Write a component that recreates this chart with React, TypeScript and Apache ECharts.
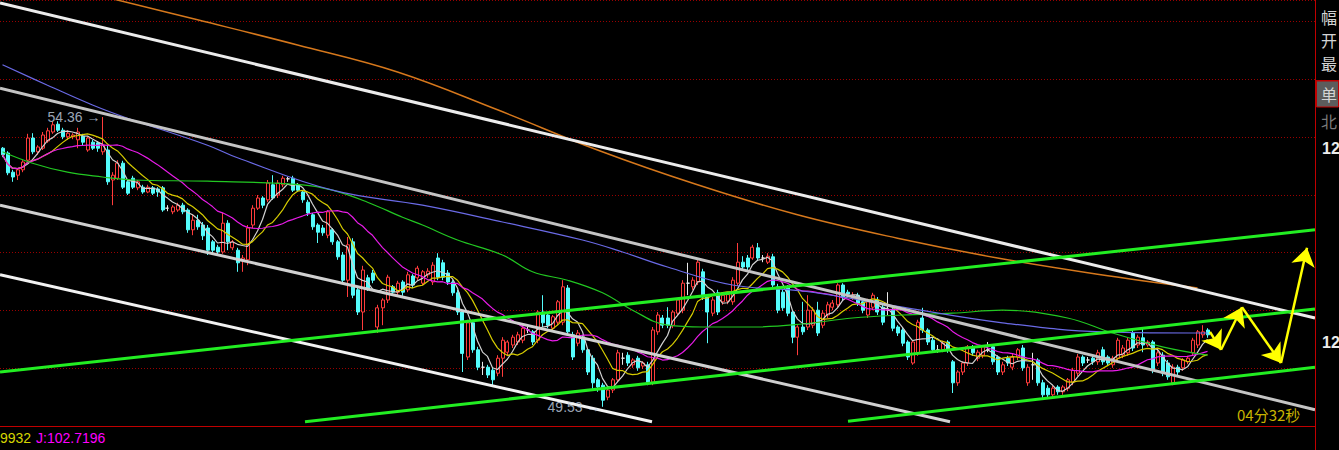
import React, { useEffect, useRef } from 'react';
import * as echarts from 'echarts';

// [open, close, low, high]
const candles: number[][] = [
  [53.84,53.73,53.69,53.86],[53.76,53.43,53.39,53.79],[53.44,53.36,53.28,53.48],[53.39,53.48,53.31,53.51],
  [53.48,53.61,53.44,53.64],[53.64,54.01,53.61,54.08],[54.01,53.78,53.74,54.09],[53.78,53.86,53.73,53.89],
  [53.84,54.06,53.81,54.11],[53.96,54.13,53.93,54.18],[54.11,54.23,54.08,54.28],[54.24,54.14,54.11,54.29],
  [54.14,54.03,53.99,54.18],[54.03,54.09,53.98,54.14],[54.03,54.06,53.99,54.09],[53.98,54.11,53.84,54.18],
  [54.04,53.94,53.89,54.08],[53.81,54.01,53.78,54.04],[53.94,53.84,53.81,53.98],[53.93,53.84,53.78,53.96],
  [53.78,53.89,53.73,54.36],[53.81,53.28,53.23,53.88],[53.31,53.39,52.89,53.44],[53.34,53.59,53.31,53.64],
  [53.59,53.19,53.16,53.63],[53.28,53.09,53.06,53.31],[53.34,53.19,53.16,53.38],[53.18,53.28,53.14,53.31],
  [53.19,53.11,53.08,53.23],[53.11,53.19,53.09,53.23],[53.18,53.09,53.06,53.21],[53.16,53.11,53.03,53.19],
  [53.18,52.81,52.78,53.21],[52.84,52.84,52.79,52.89],[52.78,52.86,52.74,52.89],[52.81,52.89,52.78,52.93],
  [52.89,52.78,52.74,52.93],[52.81,52.48,52.43,52.84],[52.48,52.64,52.39,52.73],[52.64,52.53,52.48,52.73],
  [52.56,52.38,52.31,52.61],[52.51,52.14,52.06,52.56],[52.28,52.14,52.09,52.31],[52.19,52.11,52.06,52.23],
  [52.11,52.59,52.08,52.76],[52.59,52.28,52.14,52.64],[52.18,52.28,52.14,52.31],[52.14,51.93,51.78,52.18],
  [51.98,52.01,51.78,52.06],[51.98,52.51,51.89,52.56],[52.56,52.84,52.51,52.89],[52.84,53.01,52.81,53.06],
  [53.01,52.89,52.84,53.04],[52.98,53.26,52.94,53.31],[53.23,53.01,52.98,53.39],[53.06,53.26,53.01,53.31],
  [53.23,53.34,53.19,53.38],[53.33,53.33,53.28,53.36],[53.34,53.14,53.11,53.38],[53.23,53.14,53.11,53.26],
  [53.11,52.98,52.93,53.14],[52.94,52.76,52.71,52.98],[52.73,52.53,52.48,52.76],[52.56,52.44,52.26,52.59],
  [52.51,52.43,52.38,52.56],[52.39,52.78,52.34,52.81],[52.48,52.28,52.23,52.51],[52.28,52.03,51.98,52.31],
  [52.06,51.64,51.59,52.11],[51.64,52.23,51.36,52.36],[52.28,51.39,51.34,52.34],[51.48,51.11,51.06,51.53],
  [51.11,51.81,50.81,51.88],[51.68,51.51,51.46,51.73],[51.76,51.64,51.59,51.81],[50.86,51.18,50.76,51.23],
  [51.18,51.31,50.89,51.34],[51.31,51.69,51.26,51.73],[51.53,51.44,51.39,51.56],[51.44,51.59,51.39,51.63],
  [51.61,51.44,51.38,51.64],[51.48,51.73,51.44,51.78],[51.71,51.56,51.51,51.74],[51.68,51.84,51.64,51.88],
  [51.59,51.78,51.56,51.81],[51.73,51.79,51.68,51.84],[51.61,51.89,51.56,51.94],[52.01,51.69,51.64,52.09],
  [51.93,51.69,51.64,51.98],[51.76,51.61,51.56,51.81],[51.61,51.43,51.38,51.64],[51.43,51.11,51.06,51.48],
  [51.11,50.42,50.11,51.14],[50.36,50.93,50.31,50.98],[50.93,50.48,50.43,50.98],[50.48,50.19,50.14,50.53],
  [50.19,50.19,50.06,50.28],[50.19,50.06,50.01,50.23],[50.14,49.98,49.86,50.18],[50.09,50.34,50.04,50.39],
  [50.34,50.64,50.03,50.69],[50.44,50.61,50.39,50.64],[50.56,50.69,50.51,50.73],[50.61,50.73,50.56,50.78],
  [50.64,50.84,50.59,50.89],[50.81,50.81,50.76,50.86],[50.78,50.61,50.56,50.81],[50.64,51.11,50.59,51.14],
  [51.11,50.93,50.86,51.39],[51.06,50.89,50.84,51.11],[50.84,51.03,50.81,51.06],[50.94,51.28,50.89,51.31],
  [50.94,51.53,50.89,51.64],[51.51,50.78,50.73,51.56],[50.73,50.36,50.31,50.78],[50.59,50.76,50.54,50.81],
  [50.68,50.48,50.43,50.73],[50.48,50.11,50.06,50.51],[50.34,49.93,49.81,50.39],[49.98,49.86,49.78,50.01],
  [49.89,49.64,49.53,49.93],[49.69,49.81,49.64,49.84],[49.81,49.98,49.76,50.01],[49.98,50.43,49.94,50.48],
  [50.34,50.34,50.23,50.43],[50.39,50.26,50.21,50.44],[50.23,50.31,50.18,50.34],[50.34,50.18,50.13,50.38],
  [50.21,50.26,50.16,50.29],[50.23,49.94,49.89,50.28],[49.94,50.81,49.89,50.86],[50.78,51.06,50.73,51.11],
  [51.01,50.89,50.84,51.06],[51.01,50.89,50.84,51.19],[50.89,51.11,50.84,51.14],[51.09,51.31,51.04,51.34],
  [51.14,51.59,51.09,51.64],[51.59,51.59,51.39,51.93],[51.53,51.64,51.48,51.69],[51.61,51.94,51.56,51.99],
  [51.78,51.36,51.31,51.83],[51.36,51.11,50.59,51.41],[51.09,51.31,51.04,51.36],[51.43,51.11,51.06,51.48],
  [51.28,51.39,51.23,51.44],[51.29,51.40,51.24,51.44],[51.28,51.64,51.23,51.69],[51.59,51.94,51.54,52.26],
  [51.94,51.86,51.81,52.04],[52.01,51.86,51.81,52.06],[52.01,52.19,51.98,52.23],[52.18,52.01,51.96,52.26],
  [52.01,52.01,51.94,52.06],[51.94,52.04,51.91,52.09],[52.03,51.56,51.51,52.08],[51.53,51.14,51.09,51.58],
  [51.44,51.18,51.13,51.49],[51.51,51.09,51.04,51.56],[51.11,50.69,50.59,51.14],[50.69,50.86,50.39,50.89],
  [50.86,50.78,50.73,51.28],[50.86,51.14,50.81,51.39],[50.89,51.14,50.84,51.19],[51.14,50.76,50.71,51.28],
  [50.89,51.09,50.84,51.14],[51.06,51.23,51.01,51.28],[51.19,51.26,51.14,51.31],[51.23,51.56,51.18,51.59],
  [51.56,51.36,51.31,51.59],[51.44,51.41,51.36,51.48],[51.34,51.39,51.31,51.44],[51.39,51.26,51.21,51.43],
  [51.28,51.14,51.09,51.31],[51.06,51.28,51.01,51.33],[51.19,51.39,51.14,51.43],[51.31,51.11,51.06,51.36],
  [51.19,50.94,50.89,51.23],[51.14,51.14,51.06,51.44],[51.14,50.84,50.79,51.18],[50.86,50.76,50.71,50.89],
  [50.81,50.59,50.54,50.84],[50.61,50.36,50.31,50.64],[50.26,50.61,50.23,50.64],[50.43,50.94,50.38,50.98],
  [51.01,50.81,50.76,51.18],[50.81,50.61,50.56,50.84],[50.64,50.48,50.43,50.68],[50.48,50.48,50.43,50.56],
  [50.48,50.59,50.44,50.63],[50.61,50.48,50.43,50.64],[50.28,49.93,49.76,50.31],[49.93,50.11,49.88,50.14],
  [50.11,50.26,50.06,50.29],[50.26,50.53,50.21,50.56],[50.53,50.43,50.38,50.56],[50.34,50.44,50.29,50.48],
  [50.39,50.53,50.34,50.56],[50.48,50.48,50.44,50.61],[50.53,50.28,50.23,50.56],[50.36,50.11,50.06,50.39],
  [50.11,50.23,50.06,50.28],[50.34,50.26,50.21,50.38],[50.19,50.36,50.14,50.41],[50.36,50.48,50.31,50.51],
  [50.51,50.18,50.13,50.56],[49.93,50.19,49.88,50.24],[50.23,50.23,49.98,50.43],[50.31,49.93,49.88,50.34],
  [49.93,49.73,49.68,49.98],[49.84,49.73,49.66,49.89],[49.73,49.84,49.68,49.88],[49.86,49.78,49.73,49.89],
  [49.78,49.86,49.73,49.89],[49.84,49.98,49.79,50.01],[49.94,50.14,49.89,50.18],[50.09,50.36,50.04,50.41],
  [50.36,50.26,50.21,50.39],[50.31,50.31,50.26,50.36],[50.34,50.28,50.23,50.38],[50.28,50.43,50.23,50.48],
  [50.48,50.28,50.23,50.53],[50.36,50.26,50.21,50.39],[50.23,50.34,50.18,50.38],[50.34,50.64,50.29,50.68],
  [50.39,50.51,50.34,50.56],[50.43,50.64,50.38,50.69],[50.76,50.51,50.46,50.81],[50.56,50.69,50.51,50.73],
  [50.68,50.56,50.44,50.84],[50.56,50.61,50.53,50.64],[50.61,50.14,50.09,50.64],[50.26,50.43,50.21,50.48],
  [50.39,50.09,50.04,50.44],[50.26,50.03,49.98,50.31],[49.93,50.19,49.89,50.24],[50.19,50.11,50.06,50.23],
  [50.18,50.31,50.13,50.34],[50.28,50.34,50.24,50.38],[50.43,50.64,50.38,50.68],[50.56,50.78,50.51,50.81],
  [50.73,50.78,50.68,50.89],[50.81,50.73,50.68,50.84],
];

const slotCount = 263;
const categories = Array.from({ length: slotCount }, (_, i) => String(i));

// long moving averages: [bar index, value]
const ma60Points = [
  [0,53.78],[6,53.59],[13,53.44],[20,53.36],[26,53.31],[41,53.29],[60,53.23],[66,53.14],[73,52.94],
  [80,52.69],[84,52.56],[91,52.31],[100,52.06],[106,51.78],[113,51.64],[120,51.43],[126,51.14],
  [133,50.89],[140,50.86],[150,50.86],[160,50.91],[170,51.01],[180,51.06],[190,51.09],[200,51.14],
  [213,51.01],[222,50.76],[232,50.53],[241,50.39],
];
const ma120Points = [
  [0,55.23],[9,54.89],[18,54.56],[25,54.34],[41,53.89],[47,53.68],[66,53.14],[84,52.89],[100,52.61],
  [116,52.31],[124,52.11],[133,51.86],[146,51.56],[160,51.46],[180,51.19],[200,50.93],[220,50.78],[241,50.76],
];
const ma250Points = [
  [22,56.33],[39,55.98],[59,55.56],[79,55.11],[99,54.48],[119,53.81],[139,53.23],[159,52.73],
  [179,52.34],[199,52.01],[219,51.74],[239,51.51],
];

// drawn trend lines: [[bar index, value], [bar index, value]]
const whiteChannelLines = [
  [[-0.5,56.26],[262.5,51.01]],
  [[-0.5,54.84],[262.5,49.48]],
  [[-0.5,52.89],[189.5,49.28]],
  [[-0.5,51.73],[129.9,49.28]],
];
const greenChannelLines = [
  [[-0.5,50.11],[262.5,52.48]],
  [[60.5,49.28],[262.5,51.16]],
  [[169.1,49.29],[262.5,50.19]],
];
const forecastArrows = [
  [[241.5,50.78],[243.7,50.48]],
  [[243.7,50.48],[247.9,51.19]],
  [[247.9,51.19],[255.7,50.26]],
  [[255.7,50.26],[260.9,52.18]],
];
const extremeMarks = [[20,54.36],[120,49.53]];

const countdownText = '04分32秒';
const indicatorTexts = ['9932', 'J:102.7196'];
const sidePanelLabels = ['幅', '开', '最', '单', '北'];
const sideAxisLabels = ['12', '12'];

const closes = candles.map((c) => c[1]);
function movingAverage(n: number) {
  return closes.map((_, i) => {
    const s = Math.max(0, i - n + 1);
    let sum = 0;
    for (let k = s; k <= i; k++) sum += closes[k];
    return +(sum / (i - s + 1)).toFixed(3);
  });
}

export default function App() {
  const ref = useRef<HTMLDivElement>(null);
  useEffect(() => {
    if (!ref.current) return;
    const chart = echarts.init(ref.current, null, { renderer: 'svg' });
    const whiteColors = ['#ececec', '#c4c4c4', '#d0d0d0', '#f2f2f2'];
    const maLine = (data: any, color: string, extra: any = {}) => ({
      type: 'line', data, showSymbol: false, symbol: 'none', silent: true,
      lineStyle: { color, width: 1.2 }, z: 4, ...extra,
    });
    const sideY = [17, 40, 63, 94, 121];
    const graphic: any[] = [
      { type: 'line', shape: { x1: 1315.5, y1: 0, x2: 1315.5, y2: 450 }, style: { stroke: '#c00000', lineWidth: 1 }, z: 10 },
      { type: 'line', shape: { x1: 0, y1: 426.5, x2: 1315, y2: 426.5 }, style: { stroke: '#c00000', lineWidth: 1 }, z: 10 },
      { type: 'line', shape: { x1: 1316, y1: 80.5, x2: 1339, y2: 80.5 }, style: { stroke: '#c00000', lineWidth: 1 }, z: 10 },
      { type: 'rect', shape: { x: 1316.5, y: 81, width: 22, height: 26 }, style: { fill: '#5c5c5c', stroke: '#c00000', lineWidth: 1 }, z: 10 },
    ];
    sidePanelLabels.forEach((t, k) => {
      graphic.push({ type: 'text', x: 1321, y: sideY[k], z: 11,
        style: { text: t, fill: k === 4 ? '#7a7a7a' : '#d4d4d4', font: '16px "Noto Sans CJK SC"', lineHeight: 16, align: 'left', verticalAlign: 'middle' } });
    });
    [148, 342].forEach((y, k) => {
      graphic.push({ type: 'text', x: 1322, y, z: 11,
        style: { text: sideAxisLabels[k], fill: '#ececec', font: 'bold 16px "Liberation Sans"', align: 'left', verticalAlign: 'middle' } });
    });
    graphic.push({ type: 'text', x: 0, y: 438, z: 11, style: { text: indicatorTexts[0], fill: '#d6d600', font: '14px "Liberation Sans"', verticalAlign: 'middle' } });
    graphic.push({ type: 'text', x: 36, y: 438, z: 11, style: { text: indicatorTexts[1], fill: '#ff00ff', font: '14px "Liberation Sans"', verticalAlign: 'middle' } });
    graphic.push({ type: 'text', x: 1237, y: 414, z: 11, style: { text: countdownText, fill: '#c8b400', font: '15px "Noto Sans CJK SC"', verticalAlign: 'middle' } });

    chart.setOption({
      animation: false,
      backgroundColor: '#000000',
      grid: { left: 0, top: 0, width: 1315, height: 426 },
      xAxis: [
        { type: 'category', data: categories, boundaryGap: true, show: false },
        { type: 'value', min: -0.5, max: 262.5, show: false },
      ],
      yAxis: [
        { type: 'value', min: 49.21, max: 56.31, show: false, splitLine: { show: false } },
        { type: 'value', min: 0, max: 7.37, interval: 1, show: true,
          axisLine: { show: false }, axisTick: { show: false }, axisLabel: { show: false },
          splitLine: { show: true, lineStyle: { color: '#9a0000', type: [1, 2], width: 1 } } },
      ],
      graphic,
      series: [
        {
          type: 'candlestick', data: candles, barWidth: 3.5, z: 3,
          itemStyle: { color: '#000000', color0: '#54fcfc', borderColor: '#ff3c3c', borderColor0: '#54fcfc', borderColorDoji: '#e8e8e8', borderWidth: 1 },
        },
        maLine(movingAverage(5), '#d2d2d2'),
        maLine(movingAverage(10), '#d6cc00'),
        maLine(movingAverage(20), '#e81ce8'),
        maLine(ma60Points, '#22c822', { xAxisIndex: 1, smooth: 0.4 }),
        maLine(ma120Points, '#6a6ae6', { xAxisIndex: 1, smooth: 0.4 }),
        maLine(ma250Points, '#d6781c', { xAxisIndex: 1, smooth: 0.4, lineStyle: { color: '#d6781c', width: 1.5 } }),
        {
          type: 'lines', coordinateSystem: 'cartesian2d', xAxisIndex: 1, yAxisIndex: 0, silent: true, z: 5,
          lineStyle: { width: 3, opacity: 1 },
          data: whiteChannelLines.map((c, k) => ({ coords: c, lineStyle: { color: whiteColors[k], width: 3, opacity: 1 } })),
        },
        {
          type: 'lines', coordinateSystem: 'cartesian2d', xAxisIndex: 1, yAxisIndex: 0, silent: true, z: 5,
          lineStyle: { color: '#22ee22', width: 3, opacity: 1 },
          data: greenChannelLines.map((c) => ({ coords: c })),
        },
        {
          type: 'lines', coordinateSystem: 'cartesian2d', xAxisIndex: 1, yAxisIndex: 0, silent: true, z: 6,
          symbol: ['none', 'arrow'], symbolSize: [11, 18],
          lineStyle: { color: '#ffff00', width: 2.5, opacity: 1 },
          data: forecastArrows.map((c) => ({ coords: c })),
        },
        {
          type: 'scatter', xAxisIndex: 1, yAxisIndex: 0, data: extremeMarks, symbolSize: 0, silent: true, z: 7,
          label: { show: true, position: 'left', distance: 2, color: '#c4d2e2', fontSize: 14, fontFamily: 'Liberation Sans',
            formatter: (p: any) => `${p.value[1].toFixed(2)} →` },
        },
      ],
    });
    return () => chart.dispose();
  }, []);
  return <div ref={ref} style={{ position: 'fixed', left: 0, top: 0, width: 1339, height: 450, background: '#000' }} />;
}
